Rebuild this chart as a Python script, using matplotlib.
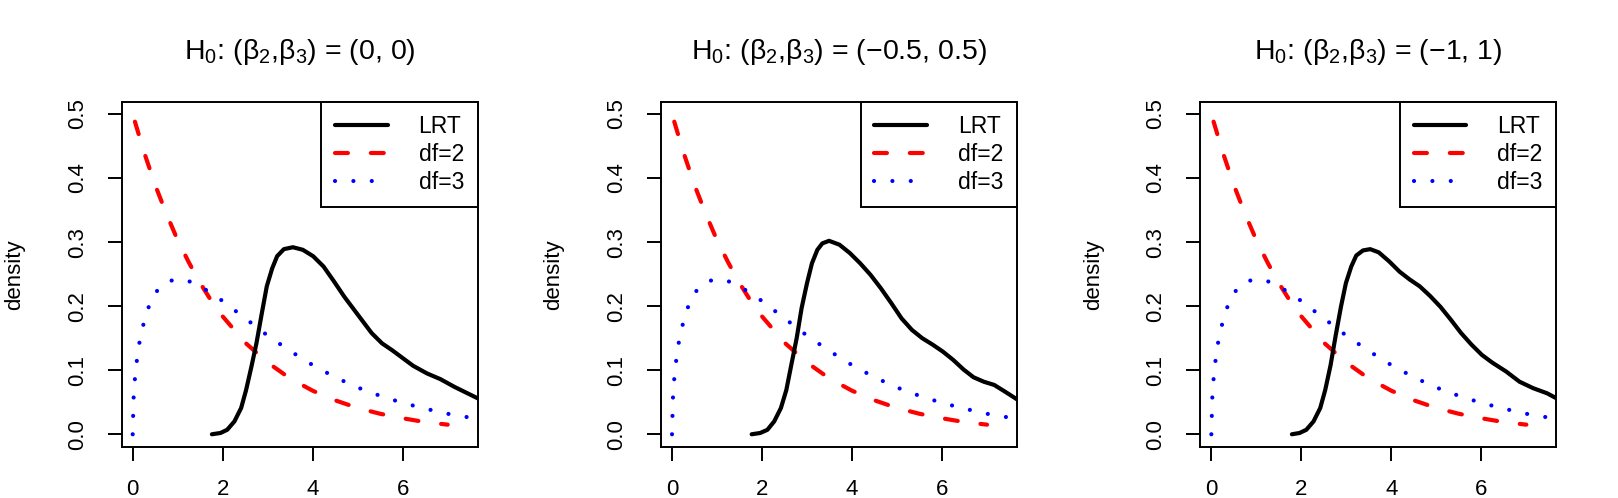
import matplotlib
matplotlib.use("Agg")
import matplotlib.pyplot as plt

plt.rcParams['font.family'] = ['Liberation Sans', 'DejaVu Sans']
plt.rcParams['mathtext.fontset'] = 'custom'
plt.rcParams['mathtext.rm'] = 'Liberation Sans'
plt.rcParams['mathtext.it'] = 'Liberation Sans'
plt.rcParams['mathtext.bf'] = 'Liberation Sans:bold'
plt.rcParams['mathtext.sf'] = 'Liberation Sans'

# ---------------- data ----------------
_h = r'$\mathregular{H_0}$: ($\mathregular{\beta_2}$,$\mathregular{\beta_3}$) = '
titles = [_h + '(0, 0)',
          _h + '(\u22120.5, 0.5)',
          _h + '(\u22121, 1)']

# chi-square df=2 reference curve (red dashed)
x_df2 = [0.05, 0.25, 0.5, 0.75, 1.0, 1.25, 1.5, 1.75, 2.0, 2.5, 3.0, 3.5,
         4.0, 4.5, 5.0, 5.5, 6.0, 6.5, 7.0]
y_df2 = [0.488, 0.441, 0.389, 0.344, 0.303, 0.268, 0.236, 0.208, 0.184,
         0.143, 0.112, 0.087, 0.068, 0.053, 0.041, 0.032, 0.025, 0.019, 0.015]

# chi-square df=3 reference curve (blue dotted)
x_df3 = [0.0, 0.02, 0.05, 0.1, 0.15, 0.2, 0.3, 0.4, 0.5, 0.6, 0.8, 1.0,
         1.25, 1.5, 1.75, 2.0, 2.5, 3.0, 3.5, 4.0, 4.5, 5.0, 5.5, 6.0,
         6.5, 7.0, 7.5]
y_df3 = [0.0, 0.056, 0.087, 0.120, 0.143, 0.161, 0.188, 0.207, 0.220,
         0.229, 0.239, 0.242, 0.239, 0.231, 0.220, 0.208, 0.181, 0.154,
         0.130, 0.108, 0.089, 0.073, 0.060, 0.049, 0.040, 0.032, 0.026]

# empirical LRT densities (black solid), one per panel
x_lrt1 = [1.76, 1.95, 2.10, 2.26, 2.41, 2.52, 2.64, 2.75, 2.87, 2.98, 3.10,
          3.21, 3.36, 3.56, 3.78, 4.01, 4.24, 4.47, 4.70, 5.01, 5.31, 5.54,
          5.77, 6.00, 6.23, 6.54, 6.84, 7.15, 7.70]
y_lrt1 = [0.000, 0.002, 0.007, 0.020, 0.041, 0.069, 0.106, 0.142, 0.189,
          0.231, 0.259, 0.278, 0.289, 0.292, 0.288, 0.278, 0.262, 0.239,
          0.215, 0.186, 0.158, 0.142, 0.131, 0.119, 0.107, 0.095, 0.086,
          0.074, 0.055]

x_lrt2 = [1.77, 1.96, 2.12, 2.27, 2.42, 2.54, 2.65, 2.77, 2.88, 3.00, 3.11,
          3.23, 3.34, 3.49, 3.72, 3.95, 4.18, 4.41, 4.64, 4.87, 5.10, 5.33,
          5.56, 5.79, 6.02, 6.25, 6.48, 6.70, 6.93, 7.16, 7.39, 7.70]
y_lrt2 = [0.000, 0.002, 0.007, 0.020, 0.041, 0.069, 0.108, 0.150, 0.197,
          0.236, 0.267, 0.288, 0.298, 0.302, 0.296, 0.283, 0.267, 0.249,
          0.228, 0.205, 0.181, 0.163, 0.150, 0.140, 0.129, 0.116, 0.101,
          0.089, 0.082, 0.077, 0.067, 0.053]

x_lrt3 = [1.79, 1.96, 2.11, 2.27, 2.42, 2.53, 2.65, 2.76, 2.88, 2.99, 3.11,
          3.22, 3.37, 3.53, 3.72, 3.95, 4.18, 4.40, 4.63, 4.86, 5.09, 5.32,
          5.55, 5.78, 6.01, 6.24, 6.55, 6.85, 7.15, 7.46, 7.70]
y_lrt3 = [0.000, 0.002, 0.007, 0.020, 0.041, 0.069, 0.108, 0.153, 0.199,
          0.236, 0.262, 0.279, 0.287, 0.289, 0.284, 0.270, 0.254, 0.242,
          0.231, 0.216, 0.199, 0.179, 0.158, 0.140, 0.124, 0.112, 0.098,
          0.082, 0.072, 0.064, 0.055]

lrt_x = [x_lrt1, x_lrt2, x_lrt3]
lrt_y = [y_lrt1, y_lrt2, y_lrt3]

legend_labels = ['LRT', 'df=2', 'df=3']
x_ticks = [0, 2, 4, 6]
y_ticks = [0.0, 0.1, 0.2, 0.3, 0.4, 0.5]
y_ticklabels = ['0.0', '0.1', '0.2', '0.3', '0.4', '0.5']

# ---------------- figure ----------------
W, H = 1618, 498
fig = plt.figure(figsize=(W / 100, H / 100), dpi=100)

ax_w, ax_h = 356 / W, 345 / H
ax_b = (H - 446.7) / H
lefts = [121.7 / W, (121.7 + W / 3) / W, (121.7 + 2 * W / 3) / W]

LW = 3.0
FS = 16

for i in range(3):
    ax = fig.add_axes([lefts[i], ax_b, ax_w, ax_h])
    l2, = ax.plot(x_df2, y_df2, color='#FF0000', lw=LW, linestyle=(0, (3.1, 5.5)),
                  dash_capstyle='round', dash_joinstyle='round')
    l3, = ax.plot(x_df3, y_df3, color='#0000FF', lw=LW, linestyle=(0, (0.01, 4.4)),
                  dash_capstyle='round', dash_joinstyle='round')
    l1, = ax.plot(lrt_x[i], lrt_y[i], color='black', lw=LW,
                  solid_capstyle='round', solid_joinstyle='round')

    ax.set_xlim(-0.244, 7.667)
    ax.set_ylim(-0.0194, 0.5192)
    ax.set_xticks(x_ticks)
    ax.set_xticklabels([str(t) for t in x_ticks])
    ax.set_yticks(y_ticks)
    ax.set_yticklabels(y_ticklabels)
    for s in ax.spines.values():
        s.set_linewidth(1.4)
    ax.tick_params(axis='both', direction='out', length=10, width=1.4,
                   labelsize=FS, color='black')
    ax.tick_params(axis='x', pad=13)
    ax.tick_params(axis='y', pad=14.5, labelrotation=90)
    for lab in ax.get_yticklabels():
        lab.set_va('center')
        lab.set_ha('right')

    ax.set_ylabel('density', fontsize=FS)
    ax.yaxis.set_label_coords(-0.2716, 0.5)

    ax.set_title(titles[i], fontsize=20.5, pad=31)

    leg = ax.legend([l1, l2, l3], legend_labels, loc='upper right',
                    bbox_to_anchor=(1.0, 1.0), borderaxespad=0,
                    fontsize=16.5, frameon=True, fancybox=False,
                    edgecolor='black', framealpha=1, handlelength=2.3,
                    handletextpad=1.35, borderpad=0.6, labelspacing=0.2)
    leg.get_frame().set_linewidth(1.4)

fig.savefig('out.png', dpi=100)
